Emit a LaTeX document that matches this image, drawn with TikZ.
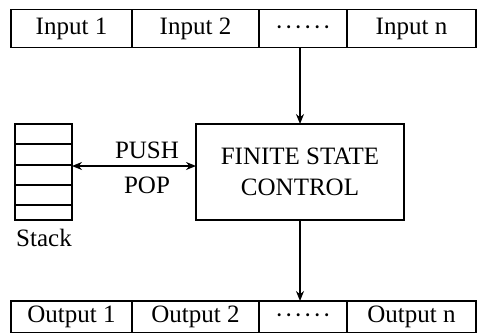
\documentclass[tikz,border=0pt]{standalone}
\usepackage{fontspec}
\setmainfont{Liberation Serif}
\usetikzlibrary{arrows.meta}
\newcommand{\sixdots}{\raisebox{-6.5pt}[0pt][0pt]{\textperiodcentered\kern1.2pt\textperiodcentered\kern1.2pt\textperiodcentered\kern1.2pt\textperiodcentered\kern1.2pt\textperiodcentered\kern1.2pt\textperiodcentered}}
\begin{document}
\begin{tikzpicture}[x=1pt,y=-1pt,line width=1.5pt,
  every node/.style={font=\fontsize{25}{28}\selectfont},
  cell/.style={draw,rectangle,inner sep=0pt,outer sep=0pt,minimum height=#1},
  arr/.style={-{Stealth[length=10pt,width=8pt]}},
  darr/.style={{Stealth[length=10pt,width=8pt]}-{Stealth[length=10pt,width=8pt]}},
  lbl/.style={inner sep=0pt}]
\useasboundingbox (0,0) rectangle (481,332);
% input tape
\node[cell=38pt,minimum width=121pt] (in1) at (71.5,28.5) {Input 1};
\node[cell=38pt,minimum width=127pt] (in2) at (195.5,28.5) {Input 2};
\node[cell=38pt,minimum width=88pt] (in3) at (303,28.5) {\sixdots};
\node[cell=38pt,minimum width=129pt] (in4) at (411.5,28.5) {Input n};
% output tape
\node[cell=32pt,minimum width=121pt] (out1) at (71.5,317) {Output 1};
\node[cell=32pt,minimum width=127pt] (out2) at (195.5,317) {Output 2};
\node[cell=32pt,minimum width=88pt] (out3) at (303,317) {\sixdots};
\node[cell=32pt,minimum width=129pt] (out4) at (411.5,317) {Output n};
% finite state control
\node[cell=96pt,minimum width=208pt,align=center] (fsc) at (300,172)
  {FINITE STATE\\[3pt]CONTROL};
% stack
\node[cell=96pt,minimum width=57pt] (stack) at (43.5,172) {};
\foreach \yy in {144,165,185,205} \draw ([yshift=-(\yy-124)*1pt]stack.north west) -- ([yshift=-(\yy-124)*1pt]stack.north east);
\node[lbl] (stacklbl) at (44,238) {Stack};
% connectors
\draw[arr] (fsc.north |- in3.south) -- (fsc.north);
\draw[arr] (fsc.south) -- (fsc.south |- out3.north);
\coordinate (sa) at ([yshift=6pt]stack.east);
\coordinate (fa) at ([yshift=6pt]fsc.west);
\draw[darr] (sa) -- (fa);
\node[lbl] (push) at (147,150) {PUSH};
\node[lbl] (pop) at (147,185) {POP};
\end{tikzpicture}
\end{document}
